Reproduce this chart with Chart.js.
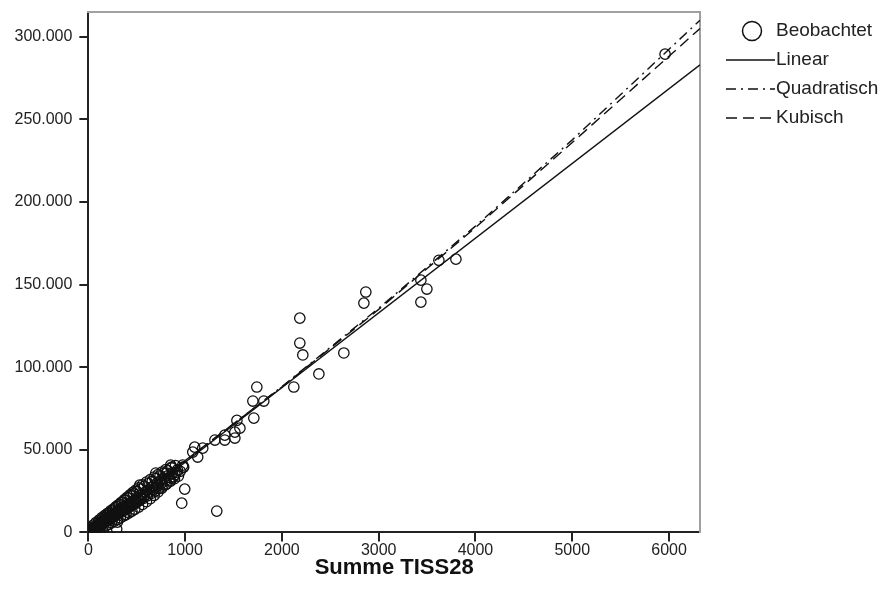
<!DOCTYPE html>
<html lang="de">
<head>
    <meta charset="UTF-8">
    <title>Summe TISS28 - Kurvenanpassung</title>
    <script src="https://cdn.jsdelivr.net/npm/chart.js"></script>
    <style>
        body { margin: 0; background: #fff; }
        #wrap { width: 886px; height: 603px; }
    </style>
</head>
<body>
<div id="wrap"><canvas id="myChart" width="886" height="603"></canvas></div>

<script>
    // beobachtete Werte (x = Summe TISS28), dichter Bereich nahe 0 zuerst
    const obsX = [5,8,12,15,18,22,25,28,32,35,38,42,45,48,52,55,58,62,65,68,72,75,78,82,85,88,92,95,98,102,
        105,110,115,118,122,126,130,135,138,142,146,150,155,160,164,168,172,176,180,185,190,195,200,205,210,215,220,
        226,232,238,244,250,256,262,268,275,282,290,298,305,312,320,328,335,343,350,360,370,380,390,400,410,420,430,
        440,450,460,470,480,490,500,510,520,530,545,560,575,590,605,620,635,650,665,680,695,710,725,740,760,780,800,
        820,845,870,895,920,950,980,
        20,50,80,110,140,170,200,230,260,290,320,350,380,410,440,470,500,540,580,620,660,700,740,780,820,860,900,
        30,60,90,120,150,180,210,240,270,300,330,360,390,420,450,480,520,560,600,640,680,720,760,800,840,880,
        100,130,160,190,220,250,280,310,340,370,400,430,460,490,520,560,600,640,680,720,760,800,
        15,45,75,105,135,165,195,225,255,285,315,345,375,405,435,465,495,530,570,610,650,690,730,770,810,850,890,930,
        40,80,120,150,
        45,300,293,376,531,697,851,809,912,861,975,985,996,965,1327,1079,1099,1130,1182,1308,1410,1410,1514,1514,
        1535,1566,1700,1710,1741,1813,2123,2185,2185,2216,2382,2640,2847,2867,3436,3436,3498,3622,3798,5959];
    const obsY = [200,600,300,900,500,1100,700,1300,900,1600,1200,1900,1400,2200,1700,2500,1900,2700,2200,3000,2500,
        3300,2700,3600,3000,3900,3200,4200,3500,4500,3700,4900,4100,5300,4400,5600,4800,6000,5100,6400,5500,6800,5900,
        7100,6300,7500,6600,7900,7000,8300,7300,8700,7700,9100,8100,9500,8500,9900,8900,10400,9400,10900,9800,11400,
        10300,11900,10800,12400,11300,13000,11900,13600,12400,14200,13000,14800,13600,15500,14300,16300,15100,17000,
        15800,17800,16600,18600,17400,19400,18200,20300,19100,21200,20000,22000,20800,23200,22000,24500,23200,25800,
        24500,27200,25800,28500,27200,29800,28600,31200,30000,32800,31600,34300,33200,36000,35000,37800,37000,39500,
        2600,4400,6000,7400,8900,10300,11600,13000,14300,15700,17000,18300,19600,20900,22200,23400,24700,26300,27900,
        29500,31000,32700,34200,35800,37400,39000,40500,
        0,400,1200,2100,3000,3900,4800,5800,6800,7800,8800,9800,10800,11900,12900,14000,15300,16900,18600,20400,
        22400,24500,26800,29000,31300,33600,
        5800,7300,8800,10300,11900,13500,15000,16600,18100,19700,21200,22700,24200,25600,27000,28800,30500,32000,
        33500,35000,36500,38000,
        300,1400,2500,3600,4700,5800,6900,8000,9100,10200,11300,12400,13500,14600,15700,16800,17900,19200,20600,
        22100,23600,25000,26500,28000,29500,31000,32500,34000,
        0,200,500,800,
        3200,6200,2000,10500,28600,35900,40700,35900,36500,39500,40700,39500,26200,17700,12900,48600,51600,45600,51000,
        55900,55900,58900,60700,57100,67800,63100,79500,69200,88000,79500,88000,129700,114600,107400,95900,108600,
        138800,145500,139400,152700,147300,164700,165400,289500];

    const linX = [0, 6320];
    const linY = [-2800, 283000];
    const quadX = [0, 1000, 2000, 3000, 4000, 5000, 6320];
    const quadY = [500, 43200, 88300, 135700, 185400, 237600, 310000];
    const cubX = [0, 1000, 2000, 3000, 4000, 5000, 6320];
    const cubY = [1500, 43500, 88000, 135000, 184500, 236000, 305000];

    const xTicks = [0, 1000, 2000, 3000, 4000, 5000, 6000];
    const yTicks = [0, 50000, 100000, 150000, 200000, 250000, 300000];

    const toPts = (xs, ys) => xs.map((x, i) => ({ x: x, y: ys[i] }));
    const deNum = v => String(v).replace(/\B(?=(\d{3})+(?!\d))/g, '.');

    Chart.defaults.font.family = "'Liberation Sans', Arial, sans-serif";
    Chart.defaults.color = '#222';

    const fitLine = (label, xs, ys, dash) => ({
        type: 'line',
        label: label,
        data: toPts(xs, ys),
        borderColor: '#111',
        borderWidth: 1.4,
        borderDash: dash,
        pointRadius: 0,
        pointHoverRadius: 0,
        fill: false,
        tension: 0
    });

    // Legende im SPSS-Stil rechts neben dem Diagramm
    const spssLegend = {
        id: 'spssLegend',
        afterDraw(chart) {
            const c = chart.ctx;
            const area = chart.chartArea;
            const x0 = area.right + 26;
            c.save();
            c.font = "19px 'Liberation Sans', Arial, sans-serif";
            c.textBaseline = 'middle';
            c.fillStyle = '#222';
            chart.data.datasets.forEach((ds, i) => {
                const y = area.top + 19 + i * 29;
                c.strokeStyle = '#111';
                if (ds.type === 'scatter') {
                    c.lineWidth = 1.5;
                    c.setLineDash([]);
                    c.beginPath();
                    c.arc(x0 + 26, y, 9.5, 0, Math.PI * 2);
                    c.stroke();
                } else {
                    c.lineWidth = 1.6;
                    c.setLineDash(ds.borderDash || []);
                    c.beginPath();
                    c.moveTo(x0, y);
                    c.lineTo(x0 + 49, y);
                    c.stroke();
                }
                c.setLineDash([]);
                c.fillText(ds.label, x0 + 50, y);
            });
            c.restore();
        }
    };

    const ctx = document.getElementById('myChart').getContext('2d');
    const myChart = new Chart(ctx, {
        data: {
            datasets: [
                {
                    type: 'scatter',
                    label: 'Beobachtet',
                    data: toPts(obsX, obsY),
                    pointStyle: 'circle',
                    pointRadius: 5.2,
                    borderColor: '#111',
                    backgroundColor: 'rgba(0,0,0,0)',
                    borderWidth: 1.3
                },
                fitLine('Linear', linX, linY, []),
                fitLine('Quadratisch', quadX, quadY, [10, 5, 2, 5]),
                fitLine('Kubisch', cubX, cubY, [11, 6])
            ]
        },
        options: {
            responsive: false,
            animation: false,
            devicePixelRatio: 1,
            layout: { padding: { left: 7.5, top: 12, right: 186, bottom: 18 } },
            scales: {
                x: {
                    type: 'linear',
                    position: 'bottom',
                    min: 0,
                    max: 6320,
                    afterBuildTicks: s => { s.ticks = xTicks.map(v => ({ value: v })); },
                    ticks: { callback: v => String(v), font: { size: 16 }, color: '#222', padding: 0 },
                    grid: { drawOnChartArea: false, drawTicks: true, tickLength: 9, color: '#222', lineWidth: 2 },
                    border: { color: '#222', width: 2 },
                    title: {
                        display: true,
                        text: 'Summe TISS28',
                        color: '#111',
                        font: { size: 22, weight: 'bold' },
                        padding: { top: -6, bottom: 4 }
                    }
                },
                y: {
                    type: 'linear',
                    position: 'left',
                    min: 0,
                    max: 315000,
                    afterBuildTicks: s => { s.ticks = yTicks.map(v => ({ value: v })); },
                    // oberstes Label liegt nicht am Rand, also keine Extra-Polsterung oben
                    afterFit: s => { s.paddingTop = 0; },
                    ticks: { callback: v => deNum(v), font: { size: 16 }, color: '#222', padding: 7 },
                    grid: { drawOnChartArea: false, drawTicks: true, tickLength: 9, color: '#222', lineWidth: 2 },
                    border: { color: '#222', width: 2 }
                },
                // grauer Rahmen oben und rechts
                x2: {
                    type: 'linear',
                    position: 'top',
                    grid: { display: false },
                    ticks: { display: false },
                    border: { color: '#a0a0a0', width: 2 },
                    afterFit: s => { s.height = 0; }
                },
                y2: {
                    type: 'linear',
                    position: 'right',
                    grid: { display: false },
                    ticks: { display: false },
                    border: { color: '#a0a0a0', width: 2 },
                    afterFit: s => { s.width = 0; }
                }
            },
            plugins: {
                tooltip: { enabled: false },
                legend: { display: false }
            }
        },
        plugins: [spssLegend]
    });
</script>
</body>
</html>
